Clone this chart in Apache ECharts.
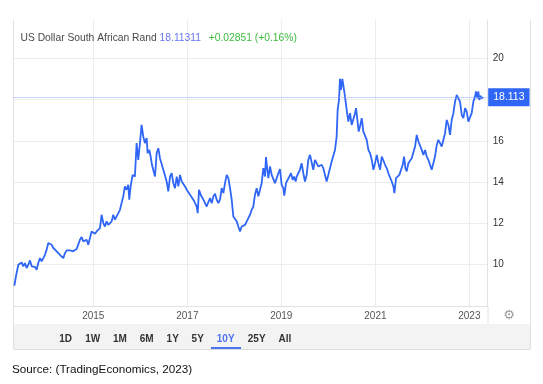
<!DOCTYPE html>
<html>
<head>
<meta charset="utf-8">
<script src="https://cdn.jsdelivr.net/npm/echarts@6/dist/echarts.min.js"></script>
<style>
html,body{margin:0;padding:0;background:#fff;}
#chart{width:543px;height:384px;}
</style>
</head>
<body>
<div id="chart"></div>
<script>
// ---- Data ----
const seriesName = 'US Dollar South African Rand';
const lastPrice = 18.11311;
const priceChange = 0.02851;
const priceChangePct = 0.16;
const yearTicks = [2015, 2017, 2019, 2021, 2023];
const rangeButtons = ['1D', '1W', '1M', '6M', '1Y', '5Y', '10Y', '25Y', 'All'];
const activeRange = '10Y';
const sourceText = 'Source: (TradingEconomics, 2023)';
const viewStart = 2013.298;
const viewEnd = 2023.391;

// decimal years
const years = [
2013.320,2013.355,2013.405,2013.440,2013.476,2013.511,2013.547,2013.582,2013.618,2013.653,
2013.689,2013.724,2013.760,2013.795,2013.830,2013.866,2013.901,2013.937,2013.972,2014.008,
2014.043,2014.079,2014.114,2014.150,2014.185,2014.221,2014.256,2014.291,2014.327,2014.362,
2014.398,2014.433,2014.469,2014.504,2014.540,2014.575,2014.611,2014.646,2014.681,2014.717,
2014.752,2014.788,2014.823,2014.859,2014.894,2014.930,2014.965,2015.001,2015.036,2015.072,
2015.107,2015.143,2015.178,2015.213,2015.249,2015.284,2015.320,2015.355,2015.391,2015.426,
2015.462,2015.497,2015.533,2015.568,2015.604,2015.639,2015.674,2015.710,2015.745,2015.767,
2015.795,2015.838,2015.866,
2015.887,2015.923,2015.958,2015.994,2016.029,2016.064,2016.100,2016.136,2016.157,2016.192,
2016.221,2016.249,2016.277,2016.313,2016.348,2016.384,2016.419,2016.455,2016.490,2016.526,
2016.561,2016.596,2016.632,2016.667,2016.703,2016.738,2016.774,2016.809,2016.845,2016.880,
2016.916,2016.951,2016.987,2017.022,2017.057,2017.093,2017.128,2017.164,2017.199,2017.221,
2017.249,2017.284,2017.313,2017.341,2017.377,2017.412,2017.447,2017.483,2017.518,2017.554,
2017.589,2017.625,2017.660,2017.696,2017.731,2017.767,2017.802,2017.838,2017.873,2017.909,
2017.944,2017.979,2018.015,2018.050,2018.086,2018.121,2018.157,2018.192,2018.228,2018.263,
2018.299,2018.334,2018.370,2018.405,2018.440,
2018.476,2018.511,2018.547,2018.582,2018.618,2018.653,2018.674,2018.703,2018.724,2018.760,
2018.795,2018.830,2018.866,2018.901,2018.937,2018.972,2019.008,2019.043,2019.064,2019.100,
2019.128,2019.171,2019.206,2019.242,2019.270,2019.306,2019.327,2019.362,2019.398,2019.433,
2019.469,2019.504,2019.540,2019.575,2019.611,2019.646,2019.681,2019.717,2019.752,2019.788,
2019.823,2019.859,2019.894,2019.930,2019.965,2020.001,2020.036,2020.072,2020.107,2020.143,
2020.178,2020.199,2020.228,2020.249,2020.270,2020.299,2020.334,2020.355,2020.391,2020.426,
2020.462,2020.497,2020.533,2020.568,2020.589,2020.618,2020.646,2020.674,2020.710,2020.745,
2020.781,2020.816,2020.852,2020.887,2020.923,2020.958,
2020.994,2021.029,2021.064,2021.100,2021.136,2021.171,2021.206,2021.242,2021.277,2021.313,
2021.348,2021.384,2021.405,2021.440,2021.476,2021.511,2021.547,2021.582,2021.611,2021.639,
2021.667,2021.703,2021.738,2021.774,2021.809,2021.845,2021.880,2021.916,2021.951,2021.987,
2022.022,2022.057,2022.093,2022.128,2022.164,2022.199,2022.235,2022.270,2022.306,2022.341,
2022.377,2022.412,2022.448,2022.483,2022.519,2022.554,2022.589,2022.625,2022.660,2022.696,
2022.731,2022.767,2022.802,2022.838,2022.873,2022.909,2022.944,2022.979,2023.015,2023.050,
2023.086,2023.121,2023.143,2023.171,2023.192,2023.213,2023.235,2023.263,2023.298
];

const rates = [
8.98,9.44,10.00,9.92,10.11,9.92,10.08,9.84,10.00,10.21,
9.92,10.00,9.89,9.76,10.08,10.32,10.16,10.32,10.48,10.73,
11.05,11.13,10.97,10.81,10.89,10.65,10.73,10.48,10.40,10.32,
10.56,10.69,10.76,10.69,10.73,10.65,10.69,10.76,10.97,11.21,
11.34,11.13,11.05,11.21,10.97,11.29,11.61,11.69,11.50,11.61,
11.66,11.77,12.42,12.02,11.85,12.10,11.93,11.85,12.10,12.42,
12.18,12.34,12.50,12.66,12.74,13.31,13.79,13.63,13.87,13.15,
13.79,14.35,14.43,
14.27,15.89,15.08,15.89,16.77,16.21,15.89,16.13,15.40,15.56,
15.24,14.84,14.76,14.27,15.40,15.64,15.16,15.08,14.60,14.52,
14.03,13.55,14.27,14.43,13.95,13.71,14.27,13.79,14.35,14.03,
13.95,13.79,13.63,13.55,13.39,13.31,13.15,12.98,12.82,12.50,
13.63,13.39,13.47,13.15,12.98,12.82,12.85,13.23,12.98,13.31,
13.44,13.15,12.98,13.15,13.71,13.47,13.95,14.35,14.19,13.71,
13.15,12.34,12.26,12.10,11.85,11.61,11.85,11.77,11.93,12.02,
12.26,12.42,12.66,12.82,13.39,
13.71,13.31,13.23,13.95,14.68,14.27,15.21,14.60,14.19,14.76,
14.35,14.43,13.95,13.87,14.43,14.63,13.87,13.71,13.34,13.95,
14.03,14.27,14.43,14.11,14.27,14.03,14.27,14.35,14.60,14.92,
14.43,14.03,14.35,15.08,15.32,15.24,14.60,15.08,15.00,14.76,
14.68,14.84,14.68,14.35,14.03,14.35,14.43,15.00,15.08,15.56,
16.21,17.50,17.98,19.00,18.47,19.00,18.47,18.14,17.50,16.93,
17.34,16.77,16.69,17.34,17.58,17.02,16.45,16.69,17.10,16.45,
16.53,16.05,15.56,15.40,15.08,14.60,
14.92,15.32,14.92,14.60,15.24,15.32,14.84,14.68,14.43,14.35,
14.03,13.79,13.47,14.19,14.27,14.35,14.35,14.84,15.24,14.68,
14.52,14.92,14.92,15.16,15.24,15.72,16.29,15.97,15.89,15.56,
15.32,15.56,15.24,15.08,15.16,14.60,14.60,15.24,15.80,16.05,
15.89,15.72,16.05,16.37,17.01,16.77,16.29,17.01,17.34,17.90,
18.22,18.14,17.90,17.26,17.10,17.58,17.42,16.93,16.85,17.34,
17.90,18.14,18.39,18.06,18.39,17.98,18.19,18.06,18.11
];

// ---- helpers ----
function toTime(y) {
  const yr = Math.floor(y);
  const s = Date.UTC(yr, 0, 1), e = Date.UTC(yr + 1, 0, 1);
  return s + (y - yr) * (e - s);
}
const seriesData = years.map((y, i) => [toTime(y), rates[i]]);
const tickTimes = yearTicks.map(y => Date.UTC(y, 0, 1));

const LINE = '#2f66f5';
const GRID = '#ececec';
const BORDER = '#e2e2e2';
const FONT = '"Liberation Sans", Arial, sans-serif';

// range selector layout
const btnX = [65.7, 92.7, 120, 146.7, 172.7, 197.7, 225.7, 256.7, 285];
const graphics = [];
graphics.push({type:'rect', shape:{x:13.3, y:324, width:516.7, height:25}, style:{fill:'#f3f3f3'}, z:-1, silent:true});
graphics.push({type:'line', shape:{x1:13.5, y1:20, x2:13.5, y2:349}, style:{stroke:BORDER, lineWidth:1}, silent:true});
graphics.push({type:'line', shape:{x1:530.5, y1:20, x2:530.5, y2:349}, style:{stroke:BORDER, lineWidth:1}, silent:true});
graphics.push({type:'line', shape:{x1:13.5, y1:349.5, x2:530.5, y2:349.5}, style:{stroke:'#dcdcdc', lineWidth:1}, silent:true});
graphics.push({type:'line', shape:{x1:488, y1:306, x2:488, y2:324}, style:{stroke:BORDER, lineWidth:1}, silent:true});
rangeButtons.forEach((b, i) => {
  const active = b === activeRange;
  graphics.push({type:'text', x:btnX[i], y:339, silent:true, style:{
    text:b, fill: active ? '#4f72f2' : '#333', font:'bold 10px ' + FONT,
    textAlign:'center', textVerticalAlign:'middle'}});
});
graphics.push({type:'rect', shape:{x:211, y:347, width:30, height:2}, style:{fill:'#4f72f2'}, silent:true});
graphics.push({type:'text', x:509, y:315.5, silent:true, style:{text:'\u2699', fill:'#9a9a9a',
  font:'13px "DejaVu Sans", sans-serif', textAlign:'center', textVerticalAlign:'middle'}});
graphics.push({type:'text', x:12, y:369.5, silent:true, style:{text:sourceText, fill:'#111',
  font:'11.7px ' + FONT, textAlign:'left', textVerticalAlign:'middle'}});

const chart = echarts.init(document.getElementById('chart'), null, {renderer:'canvas'});
chart.setOption({
  animation: false,
  useUTC: true,
  backgroundColor: '#fff',
  textStyle: {fontFamily: FONT},
  title: {
    left: 20.5, top: 33, padding: 0,
    text: '{a|' + seriesName + '} {b|' + lastPrice.toFixed(5) + '}  {c|+' + priceChange.toFixed(5) + ' (+' + priceChangePct.toFixed(2) + '%)}',
    textStyle: {
      fontSize: 10.3, fontWeight: 'normal', fontFamily: FONT,
      rich: {
        a: {fontSize: 10.3, fontWeight: 'normal', color: '#4a4a4a', fontFamily: FONT},
        b: {fontSize: 10.3, fontWeight: 'normal', color: '#6675f0', fontFamily: FONT},
        c: {fontSize: 10.3, fontWeight: 'normal', color: '#3dbb3d', fontFamily: FONT, padding:[0,0,0,2]}
      }
    }
  },
  grid: {left: 13.3, right: 55.3, top: 20, bottom: 78, containLabel: false},
  xAxis: {
    type: 'time',
    min: toTime(viewStart),
    max: toTime(viewEnd),
    axisLine: {show: true, lineStyle: {color: BORDER}},
    axisTick: {show: false, customValues: tickTimes},
    axisLabel: {customValues: tickTimes, formatter: '{yyyy}', fontSize: 10, color: '#555', margin: 5.5, fontFamily: FONT},
    splitLine: {show: true, lineStyle: {color: GRID, width: 1}}
  },
  yAxis: {
    type: 'value',
    position: 'right',
    min: 8,
    max: 21.853,
    interval: 2,
    axisLine: {show: true, lineStyle: {color: BORDER}},
    axisTick: {show: false},
    axisLabel: {
      fontSize: 10, color: '#333', margin: 5, showMinLabel: false, showMaxLabel: false, fontFamily: FONT,
      formatter: v => (v === 18 ? '' : String(v))
    },
    splitLine: {show: true, showMaxLine: false, lineStyle: {color: GRID, width: 1}}
  },
  graphic: graphics,
  series: [{
    type: 'line',
    name: seriesName,
    data: seriesData,
    showSymbol: false,
    symbol: 'none',
    lineStyle: {color: LINE, width: 1.8},
    itemStyle: {color: LINE},
    markLine: {
      silent: true,
      symbol: ['none', 'none'],
      data: [{yAxis: lastPrice}],
      lineStyle: {type: 'dotted', color: '#8fa6ff', width: 1},
      label: {
        show: true, position: 'end', distance: 0.5,
        formatter: lastPrice.toFixed(3),
        backgroundColor: LINE, color: '#fff', fontSize: 10.5, fontFamily: FONT,
        padding: [4, 5, 3, 5], lineHeight: 11, borderRadius: 0
      }
    }
  }]
});
</script>
</body>
</html>
